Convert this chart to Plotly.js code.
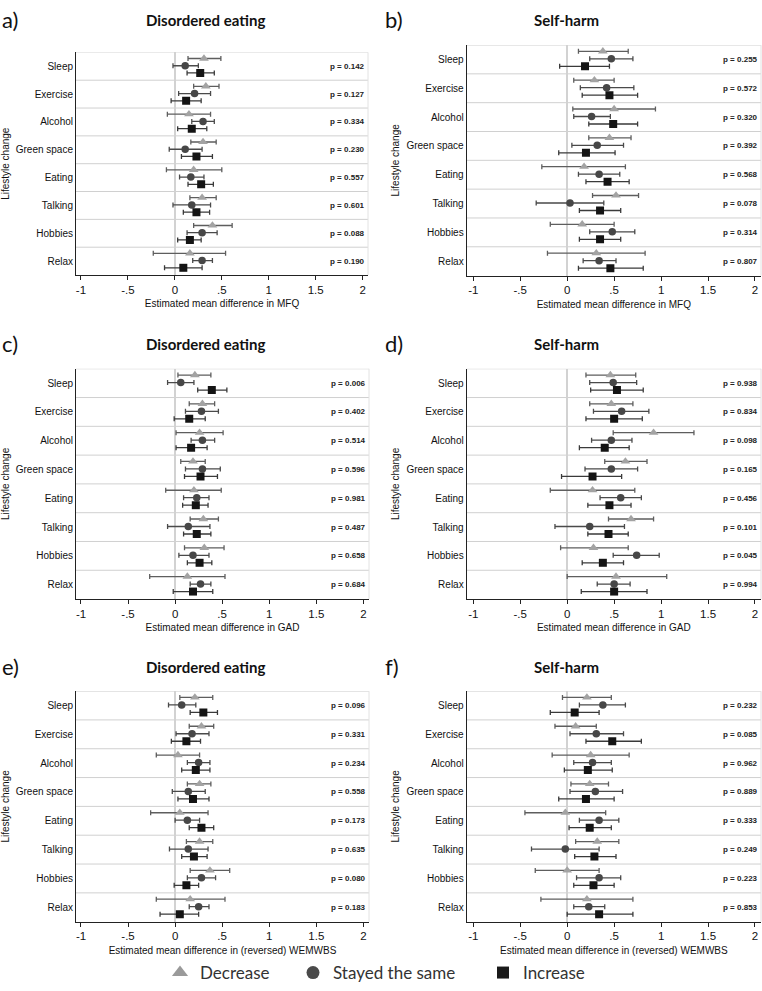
<!DOCTYPE html>
<html>
<head>
<meta charset="utf-8">
<script src="https://cdn.plot.ly/plotly-3.0.1.min.js"></script>
<style>html,body{margin:0;padding:0;background:#fff;}#chart{width:762px;height:991px;}</style>
</head>
<body>
<div id="chart"></div>
<script>
// ---------------- DATA ----------------
const categories = ["Sleep", "Exercise", "Alcohol", "Green space", "Eating", "Talking", "Hobbies", "Relax"];
const seriesNames = ["Decrease", "Stayed the same", "Increase"];
const xTickVals = [-1, -0.5, 0, 0.5, 1, 1.5, 2];
const xTickText = ["-1", "-.5", "0", ".5", "1", "1.5", "2"];
const panelLetters = ["a)", "b)", "c)", "d)", "e)", "f)"];
const panelTitles = ["Disordered eating", "Self-harm", "Disordered eating", "Self-harm", "Disordered eating", "Self-harm"];
const xTitles = ["Estimated mean difference in MFQ", "Estimated mean difference in MFQ",
  "Estimated mean difference in GAD", "Estimated mean difference in GAD",
  "Estimated mean difference in (reversed) WEMWBS", "Estimated mean difference in (reversed) WEMWBS"];

// Panel a: Disordered eating, MFQ
const a_dec_est = [0.31, 0.33, 0.15, 0.30, 0.20, 0.29, 0.40, 0.16];
const a_dec_lo  = [0.14, 0.20, -0.08, 0.17, -0.09, 0.16, 0.20, -0.23];
const a_dec_hi  = [0.49, 0.47, 0.38, 0.44, 0.50, 0.44, 0.61, 0.54];
const a_same_est = [0.11, 0.21, 0.30, 0.11, 0.17, 0.18, 0.29, 0.29];
const a_same_lo  = [-0.02, 0.04, 0.18, -0.06, 0.05, -0.02, 0.13, 0.19];
const a_same_hi  = [0.25, 0.38, 0.42, 0.29, 0.31, 0.38, 0.45, 0.40];
const a_inc_est = [0.27, 0.12, 0.18, 0.23, 0.28, 0.23, 0.16, 0.09];
const a_inc_lo  = [0.13, -0.04, 0.03, 0.07, 0.14, 0.09, 0.03, -0.11];
const a_inc_hi  = [0.42, 0.28, 0.34, 0.40, 0.41, 0.37, 0.28, 0.29];
const a_p = ["0.142", "0.127", "0.334", "0.230", "0.557", "0.601", "0.088", "0.190"];

// Panel b: Self-harm, MFQ
const b_dec_est = [0.38, 0.29, 0.50, 0.45, 0.18, 0.52, 0.16, 0.31];
const b_dec_lo  = [0.12, 0.07, 0.06, 0.23, -0.27, 0.27, -0.18, -0.21];
const b_dec_hi  = [0.65, 0.50, 0.94, 0.68, 0.62, 0.76, 0.50, 0.83];
const b_same_est = [0.47, 0.42, 0.26, 0.32, 0.34, 0.03, 0.48, 0.34];
const b_same_lo  = [0.24, 0.14, 0.07, 0.05, 0.12, -0.33, 0.24, 0.17];
const b_same_hi  = [0.70, 0.71, 0.46, 0.60, 0.56, 0.39, 0.72, 0.52];
const b_inc_est = [0.19, 0.45, 0.49, 0.20, 0.43, 0.35, 0.35, 0.46];
const b_inc_lo  = [-0.08, 0.16, 0.23, -0.09, 0.20, 0.13, 0.13, 0.12];
const b_inc_hi  = [0.45, 0.75, 0.75, 0.51, 0.66, 0.57, 0.57, 0.81];
const b_p = ["0.255", "0.572", "0.320", "0.392", "0.568", "0.078", "0.314", "0.807"];

// Panel c: Disordered eating, GAD
const c_dec_est = [0.21, 0.29, 0.26, 0.19, 0.20, 0.30, 0.31, 0.13];
const c_dec_lo  = [0.03, 0.15, 0.01, 0.06, -0.10, 0.16, 0.10, -0.27];
const c_dec_hi  = [0.38, 0.42, 0.51, 0.32, 0.49, 0.46, 0.52, 0.53];
const c_same_est = [0.06, 0.28, 0.29, 0.29, 0.23, 0.14, 0.19, 0.27];
const c_same_lo  = [-0.08, 0.11, 0.17, 0.11, 0.09, -0.08, 0.04, 0.16];
const c_same_hi  = [0.20, 0.46, 0.42, 0.48, 0.36, 0.37, 0.36, 0.38];
const c_inc_est = [0.39, 0.15, 0.17, 0.27, 0.22, 0.23, 0.26, 0.19];
const c_inc_lo  = [0.24, -0.01, 0.01, 0.10, 0.08, 0.09, 0.13, -0.02];
const c_inc_hi  = [0.55, 0.32, 0.34, 0.45, 0.35, 0.38, 0.39, 0.40];
const c_p = ["0.006", "0.402", "0.514", "0.596", "0.981", "0.487", "0.658", "0.684"];

// Panel d: Self-harm, GAD
const d_dec_est = [0.46, 0.47, 0.92, 0.62, 0.27, 0.68, 0.28, 0.52];
const d_dec_lo  = [0.20, 0.24, 0.49, 0.40, -0.18, 0.44, -0.07, 0.00];
const d_dec_hi  = [0.73, 0.70, 1.35, 0.85, 0.72, 0.92, 0.65, 1.06];
const d_same_est = [0.49, 0.58, 0.47, 0.47, 0.57, 0.24, 0.74, 0.50];
const d_same_lo  = [0.24, 0.28, 0.26, 0.19, 0.35, -0.13, 0.49, 0.32];
const d_same_hi  = [0.74, 0.87, 0.69, 0.75, 0.79, 0.61, 0.98, 0.67];
const d_inc_est = [0.53, 0.50, 0.40, 0.27, 0.45, 0.44, 0.38, 0.50];
const d_inc_lo  = [0.25, 0.20, 0.13, -0.06, 0.22, 0.22, 0.16, 0.15];
const d_inc_hi  = [0.81, 0.80, 0.66, 0.58, 0.68, 0.65, 0.60, 0.85];
const d_p = ["0.938", "0.834", "0.098", "0.165", "0.456", "0.101", "0.045", "0.994"];

// Panel e: Disordered eating, (reversed) WEMWBS
const e_dec_est = [0.21, 0.28, 0.03, 0.26, 0.05, 0.26, 0.37, 0.16];
const e_dec_lo  = [0.05, 0.15, -0.20, 0.13, -0.26, 0.12, 0.16, -0.20];
const e_dec_hi  = [0.40, 0.41, 0.26, 0.38, 0.35, 0.40, 0.58, 0.53];
const e_same_est = [0.07, 0.18, 0.25, 0.14, 0.13, 0.14, 0.28, 0.25];
const e_same_lo  = [-0.07, 0.01, 0.13, -0.03, 0.00, -0.06, 0.13, 0.15];
const e_same_hi  = [0.22, 0.36, 0.37, 0.32, 0.26, 0.35, 0.43, 0.36];
const e_inc_est = [0.30, 0.12, 0.22, 0.19, 0.28, 0.20, 0.12, 0.05];
const e_inc_lo  = [0.16, -0.04, 0.07, 0.03, 0.15, 0.07, -0.01, -0.16];
const e_inc_hi  = [0.45, 0.27, 0.37, 0.36, 0.41, 0.34, 0.25, 0.25];
const e_p = ["0.096", "0.331", "0.234", "0.558", "0.173", "0.635", "0.080", "0.183"];

// Panel f: Self-harm, (reversed) WEMWBS
const f_dec_est = [0.21, 0.09, 0.25, 0.24, -0.02, 0.32, 0.00, 0.21];
const f_dec_lo  = [-0.05, -0.13, -0.16, 0.04, -0.45, 0.09, -0.34, -0.28];
const f_dec_hi  = [0.47, 0.31, 0.66, 0.44, 0.41, 0.55, 0.34, 0.70];
const f_same_est = [0.38, 0.31, 0.27, 0.30, 0.34, -0.02, 0.34, 0.23];
const f_same_lo  = [0.13, 0.03, 0.07, 0.03, 0.13, -0.38, 0.10, 0.07];
const f_same_hi  = [0.62, 0.60, 0.47, 0.59, 0.55, 0.34, 0.57, 0.40];
const f_inc_est = [0.08, 0.48, 0.22, 0.20, 0.24, 0.29, 0.28, 0.34];
const f_inc_lo  = [-0.18, 0.20, -0.03, -0.09, 0.02, 0.08, 0.07, 0.00];
const f_inc_hi  = [0.34, 0.79, 0.48, 0.50, 0.47, 0.52, 0.50, 0.70];
const f_p = ["0.232", "0.085", "0.962", "0.889", "0.333", "0.249", "0.223", "0.853"];

// ---------------- BUILD ----------------
const panels = [
  {est: [a_dec_est, a_same_est, a_inc_est], lo: [a_dec_lo, a_same_lo, a_inc_lo], hi: [a_dec_hi, a_same_hi, a_inc_hi], p: a_p},
  {est: [b_dec_est, b_same_est, b_inc_est], lo: [b_dec_lo, b_same_lo, b_inc_lo], hi: [b_dec_hi, b_same_hi, b_inc_hi], p: b_p},
  {est: [c_dec_est, c_same_est, c_inc_est], lo: [c_dec_lo, c_same_lo, c_inc_lo], hi: [c_dec_hi, c_same_hi, c_inc_hi], p: c_p},
  {est: [d_dec_est, d_same_est, d_inc_est], lo: [d_dec_lo, d_same_lo, d_inc_lo], hi: [d_dec_hi, d_same_hi, d_inc_hi], p: d_p},
  {est: [e_dec_est, e_same_est, e_inc_est], lo: [e_dec_lo, e_same_lo, e_inc_lo], hi: [e_dec_hi, e_same_hi, e_inc_hi], p: e_p},
  {est: [f_dec_est, f_same_est, f_inc_est], lo: [f_dec_lo, f_same_lo, f_inc_lo], hi: [f_dec_hi, f_same_hi, f_inc_hi], p: f_p}
];

const W = 762, H = 991;
// pixel boxes [left, right, top, bottom]
const boxes = [
  [76, 368, 52.7, 276.7], [466.7, 761, 45.3, 277.3],
  [76, 369, 371, 602.7], [466.7, 761, 371, 602.7],
  [76, 369, 695.3, 927.3], [466.7, 761, 695.3, 927.3]
];
const xRanges = [[-1.053, 2.057], [-1.07, 2.064], [-1.053, 2.06], [-1.07, 2.064], [-1.053, 2.06], [-1.07, 2.064]];
const titleY = [20, 20, 346, 346, 671, 671];
const titleX = [205, 566, 205, 566, 205, 566];
const letterX = [0, 383, 0, 383, 0, 383];

const offsets = [-0.28, -0.02, 0.24];
const symbols = ["triangle-up", "circle", "square"];
const markerColors = ["#a3a3a3", "#474747", "#141414"];
const markerSizes = [8.5, 7.5, 8];
const barColors = ["#5e5e5e", "#4a4a4a", "#3a3a3a"];
const AX = "'Liberation Sans', Arial, sans-serif";
const CAL = "Lato, 'Open Sans', sans-serif";

const traces = [];
const layout = {
  width: W, height: H, margin: {l: 0, r: 0, t: 0, b: 0},
  paper_bgcolor: "#fff", plot_bgcolor: "#fff",
  showlegend: true,
  shapes: [], annotations: []
};

panels.forEach((pn, k) => {
  const sfx = k === 0 ? "" : String(k + 1);
  const xa = "x" + sfx, ya = "y" + sfx;
  const b = boxes[k];
  layout["xaxis" + sfx] = {
    domain: [b[0] / W, b[1] / W], anchor: ya, range: xRanges[k],
    tickmode: "array", tickvals: xTickVals, ticktext: xTickText,
    ticks: "outside", ticklen: 4, tickwidth: 1, tickcolor: "#222",
    showline: true, linecolor: "#222", linewidth: 1,
    showgrid: false, zeroline: true, zerolinecolor: "#d2d2d2", zerolinewidth: 1.5,
    tickfont: {family: AX, size: 11.5, color: "#111"},
    title: {text: xTitles[k], font: {family: AX, size: 10, color: "#111"}, standoff: 5},
    fixedrange: true
  };
  layout["yaxis" + sfx] = {
    domain: [1 - b[3] / H, 1 - b[2] / H], anchor: xa, range: [categories.length + 0.5, 0.5],
    tickmode: "array", tickvals: categories.map((c, i) => i + 1), ticktext: categories,
    ticks: "", showline: true, linecolor: "#222", linewidth: 1,
    showgrid: false, zeroline: false,
    tickfont: {family: AX, size: 10, color: "#111"},
    title: {text: "Lifestyle change", font: {family: AX, size: 10, color: "#111"}, standoff: 4},
    fixedrange: true
  };
  // separators between groups
  for (let i = 0; i < categories.length; i++) {
    layout.shapes.push({type: "line", xref: xa + " domain", yref: ya, x0: 0, x1: 1, y0: i + 0.5, y1: i + 0.5,
      line: {color: "#d0d0d0", width: 1}, layer: "below"});
  }
  layout.shapes.push({type: "line", xref: xa + " domain", yref: ya + " domain", x0: 1, x1: 1, y0: 0, y1: 1,
    line: {color: "#e2e2e2", width: 1}, layer: "below"});

  for (let s = 0; s < 3; s++) {
    const est = pn.est[s], lo = pn.lo[s], hi = pn.hi[s];
    traces.push({
      type: "scatter", mode: "markers", xaxis: xa, yaxis: ya, showlegend: false,
      name: seriesNames[s],
      x: est, y: categories.map((c, i) => i + 1 + offsets[s]),
      marker: {symbol: symbols[s], size: markerSizes[s], color: markerColors[s], line: {width: 0}},
      error_x: {type: "data", symmetric: false,
        array: est.map((v, i) => hi[i] - v), arrayminus: est.map((v, i) => v - lo[i]),
        color: barColors[s], thickness: 1.3, width: 2.5},
      hoverinfo: "skip"
    });
  }
  // p-values
  pn.p.forEach((pv, i) => {
    layout.annotations.push({xref: xa + " domain", yref: ya, x: 0.995, y: i + 1, xanchor: "right", yanchor: "middle",
      text: "p = " + pv, showarrow: false, font: {family: AX, size: 8, color: "#222", weight: 700}});
  });
  // panel letter and title
  layout.annotations.push({xref: "paper", yref: "paper", x: letterX[k] / W, y: 1 - titleY[k] / H, xanchor: "left", yanchor: "middle",
    text: panelLetters[k], showarrow: false, font: {family: CAL, size: 22, color: "#111"}});
  layout.annotations.push({xref: "paper", yref: "paper", x: titleX[k] / W, y: 1 - titleY[k] / H, xanchor: "center", yanchor: "middle",
    text: panelTitles[k], showarrow: false, font: {family: CAL, size: 15, color: "#111", weight: 700}});
});

// legend-only traces, each in its own legend box
const legendSizes = [14, 13, 12];
const legendColors = ["#9a9a9a", "#4a4a4a", "#1a1a1a"];
const legendIds = ["legend", "legend2", "legend3"];
const legendLeft = [160, 293, 483];
for (let s = 0; s < 3; s++) {
  traces.push({type: "scatter", mode: "markers", x: [null], y: [null], xaxis: "x", yaxis: "y",
    name: seriesNames[s], showlegend: true, legend: legendIds[s],
    marker: {symbol: symbols[s], size: legendSizes[s], color: legendColors[s]}});
  layout[legendIds[s]] = {orientation: "h", x: legendLeft[s] / W, xanchor: "left", y: 1 - 979 / H, yanchor: "middle",
    font: {family: CAL, size: 17, color: "#333"}, itemsizing: "trace", bgcolor: "rgba(0,0,0,0)"};
}

Plotly.newPlot("chart", traces, layout, {staticPlot: true});
</script>
</body>
</html>
